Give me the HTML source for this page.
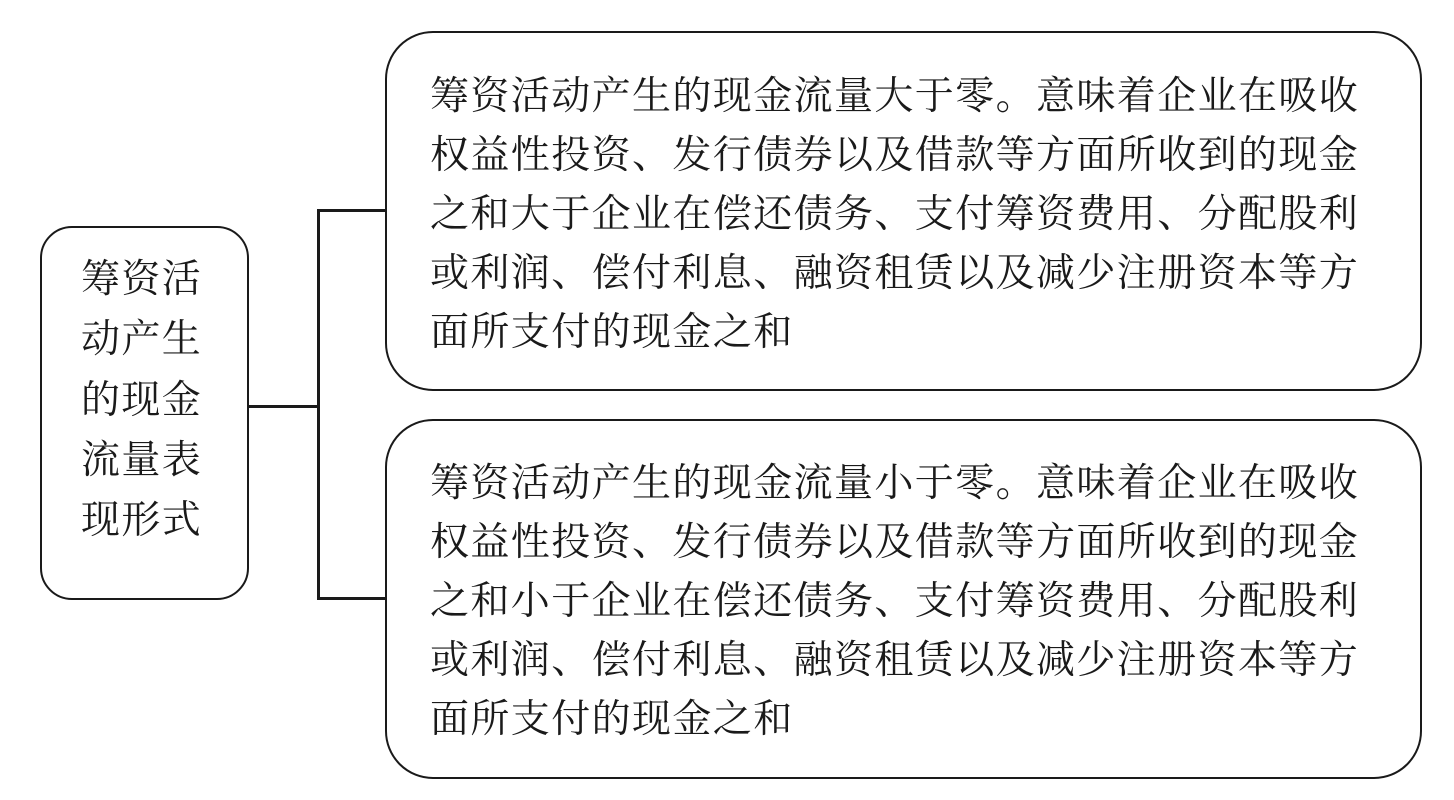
<!DOCTYPE html>
<html><head><meta charset="utf-8"><style>
body{margin:0;width:1454px;height:800px;background:#fff;position:relative;overflow:hidden;font-family:"Liberation Serif","Noto Serif CJK SC",serif;color:#1a1a1a}
.box{position:absolute;border:2.5px solid #1a1a1a;box-sizing:border-box;background:#fff}
.t{position:absolute;font-size:39px;line-height:40px;white-space:nowrap;letter-spacing:1.4px}
.ln{position:absolute;background:#1a1a1a}
</style></head><body>
<div class="box" style="left:40px;top:226px;width:209px;height:374px;border-radius:32px"></div>
<div class="box" style="left:385px;top:31px;width:1037px;height:360px;border-radius:48px"></div>
<div class="box" style="left:385px;top:419px;width:1037px;height:360px;border-radius:48px"></div>
<div class="ln" style="left:248px;top:405px;width:71px;height:2.5px"></div>
<div class="ln" style="left:317px;top:209px;width:2.5px;height:391px"></div>
<div class="ln" style="left:317px;top:209px;width:70px;height:2.5px"></div>
<div class="ln" style="left:317px;top:597px;width:70px;height:2.5px"></div>

<div class="t" style="left:81px;top:260px">筹资活</div>
<div class="t" style="left:81px;top:320px">动产生</div>
<div class="t" style="left:81px;top:381px">的现金</div>
<div class="t" style="left:81px;top:441px">流量表</div>
<div class="t" style="left:81px;top:501px">现形式</div>

<div class="t" style="left:430px;top:77px">筹资活动产生的现金流量大于零。意味着企业在吸收</div>
<div class="t" style="left:430px;top:136px">权益性投资、发行债券以及借款等方面所收到的现金</div>
<div class="t" style="left:430px;top:195px">之和大于企业在偿还债务、支付筹资费用、分配股利</div>
<div class="t" style="left:430px;top:254px">或利润、偿付利息、融资租赁以及减少注册资本等方</div>
<div class="t" style="left:430px;top:313px">面所支付的现金之和</div>

<div class="t" style="left:430px;top:464px">筹资活动产生的现金流量小于零。意味着企业在吸收</div>
<div class="t" style="left:430px;top:523px">权益性投资、发行债券以及借款等方面所收到的现金</div>
<div class="t" style="left:430px;top:582px">之和小于企业在偿还债务、支付筹资费用、分配股利</div>
<div class="t" style="left:430px;top:641px">或利润、偿付利息、融资租赁以及减少注册资本等方</div>
<div class="t" style="left:430px;top:700px">面所支付的现金之和</div>
</body></html>
